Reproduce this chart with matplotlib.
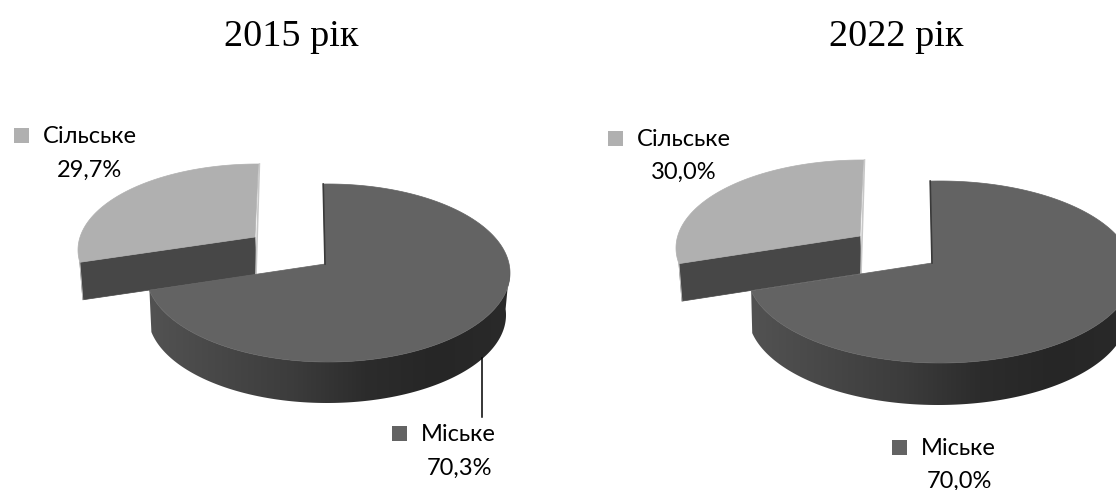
import numpy as np
import matplotlib
matplotlib.use('Agg')
import matplotlib.pyplot as plt
from matplotlib.colors import LinearSegmentedColormap
from matplotlib.patches import Polygon

categories = ['Міське', 'Сільське']
titles = ['2015 рік', '2022 рік']
values_2015 = [70.3, 29.7]
values_2022 = [70.0, 30.0]

DARK = '#636363'
LIGHT = '#b0b0b0'
wall_cmap = LinearSegmentedColormap.from_list(
    'wall', ['#525252', '#474747', '#3c3c3c', '#2c2c2c', '#262626', '#2a2a2a'])


def rim(t, apex, center, rx, ry, tilt=0):
    # ray from the apex to the tilted ellipse, t in degrees clockwise from 12 o'clock
    t = np.radians(t)
    dx = rx * np.sin(t) + tilt * np.cos(t)
    dy = -ry * np.cos(t)
    ox = (apex[0] - center[0]) / rx
    oy = (apex[1] - center[1]) / ry
    a = (dx / rx) ** 2 + (dy / ry) ** 2
    b = 2 * (ox * dx / rx + oy * dy / ry)
    c = ox ** 2 + oy ** 2 - 1
    s = (-b + np.sqrt(b ** 2 - 4 * a * c)) / (2 * a)
    return apex[0] + s * dx, apex[1] + s * dy


def draw_big(ax, share, apex, center, rx, ry, bottom_center, bottom_rx, bottom_ry):
    end = share * 3.6
    # outer wall with a horizontal gradient
    t = np.linspace(92, end, 200)
    x0, y0 = rim(t, apex, center, rx, ry, -2)
    bapex = (apex[0], apex[1] + bottom_center[1] - center[1])
    x1, y1 = rim(t, bapex, bottom_center, bottom_rx, bottom_ry, -2)
    pts = np.column_stack([np.r_[x0, x1[::-1]], np.r_[y0, y1[::-1]]])
    wall = Polygon(pts, closed=True, fc='none', ec='none')
    ax.add_patch(wall)
    im = ax.imshow(np.linspace(0, 1, 256).reshape(1, -1), cmap=wall_cmap, aspect='auto',
                   extent=[pts[:, 0].min(), pts[:, 0].max(), pts[:, 1].max(), pts[:, 1].min()],
                   zorder=2)
    im.set_clip_path(wall)
    # top face
    t = np.linspace(0, end, 300)
    x, y = rim(t, apex, center, rx, ry, -2)
    ax.fill(np.r_[apex[0], x], np.r_[apex[1], y], fc=DARK, ec=DARK, lw=0.5, zorder=3)
    ax.plot([x[0], apex[0]], [y[0], apex[1]], color='#3a3a3a', lw=1.2, zorder=4)


def draw_small(ax, share, start, apex, center, rx, ry, depth, shift):
    t = np.linspace(start, start + share * 3.6, 200)
    x, y = rim(t, apex, center, rx, ry, 4)
    ax.fill([x[0], apex[0], apex[0] + 1, x[0] + shift], [y[0], apex[1], apex[1] + depth, y[0] + depth],
            fc='#474747', ec='#474747', lw=0.5, zorder=1)
    ax.plot([apex[0] + 1, x[-1] + 1], [apex[1] + depth, y[-1]], color='#c8c8c8', lw=1.2, zorder=1)
    ax.plot([x[0], x[0] + shift], [y[0], y[0] + depth], color='#c8c8c8', lw=0.6, zorder=1)
    ax.fill(np.r_[apex[0], x], np.r_[apex[1], y], fc=LIGHT, ec=LIGHT, lw=0.5, zorder=2)


def legend_entry(ax, square_x, square_y, text_x, text_y, pct_x, pct_y, name, value, color):
    ax.fill([square_x, square_x + 15, square_x + 15, square_x],
            [square_y, square_y, square_y + 15, square_y + 15], fc=color, ec='none', zorder=5)
    ax.text(text_x, text_y, name, fontsize=17, ha='left', va='center', color='black')
    pct = f'{value:.1f}'.replace('.', ',') + '%'
    ax.text(pct_x, pct_y, pct, fontsize=17, ha='center', va='center', color='black')


plt.rcParams['font.family'] = ['Lato', 'DejaVu Sans']

fig = plt.figure(figsize=(11.16, 4.9), dpi=100)
ax = fig.add_axes([0, 0, 1, 1])

# left pie
draw_small(ax, values_2015[1], values_2015[0] * 3.6, (255, 237), (258, 250), 180, 86, 37.5, 3)
draw_big(ax, values_2015[0], (325, 264), (328, 273), 182, 89, (327, 315), 179, 88)
ax.plot([482, 482], [358, 417], color='black', lw=1.1, zorder=5)
legend_entry(ax, 14, 128, 43, 136, 90, 170, categories[1], values_2015[1], LIGHT)
legend_entry(ax, 392, 426, 421, 434, 459, 468, categories[0], values_2015[0], DARK)

# right pie
draw_small(ax, values_2022[1], values_2022[0] * 3.6, (860, 236), (862, 248), 186, 88, 37.5, 3)
draw_big(ax, values_2022[0], (932, 263), (940, 272), 193, 91, (938, 314), 190, 91)
legend_entry(ax, 608, 131, 637, 139, 684, 172, categories[1], values_2022[1], LIGHT)
legend_entry(ax, 892, 440, 921, 448, 959, 481, categories[0], values_2022[0], DARK)

ax.text(291, 37, titles[0], fontsize=27.5, family='Liberation Serif', ha='center', va='center')
ax.text(896, 37, titles[1], fontsize=27.5, family='Liberation Serif', ha='center', va='center')

ax.set_xlim(0, 1116)
ax.set_ylim(490, 0)
ax.axis('off')

fig.savefig('out.png', dpi=100)
